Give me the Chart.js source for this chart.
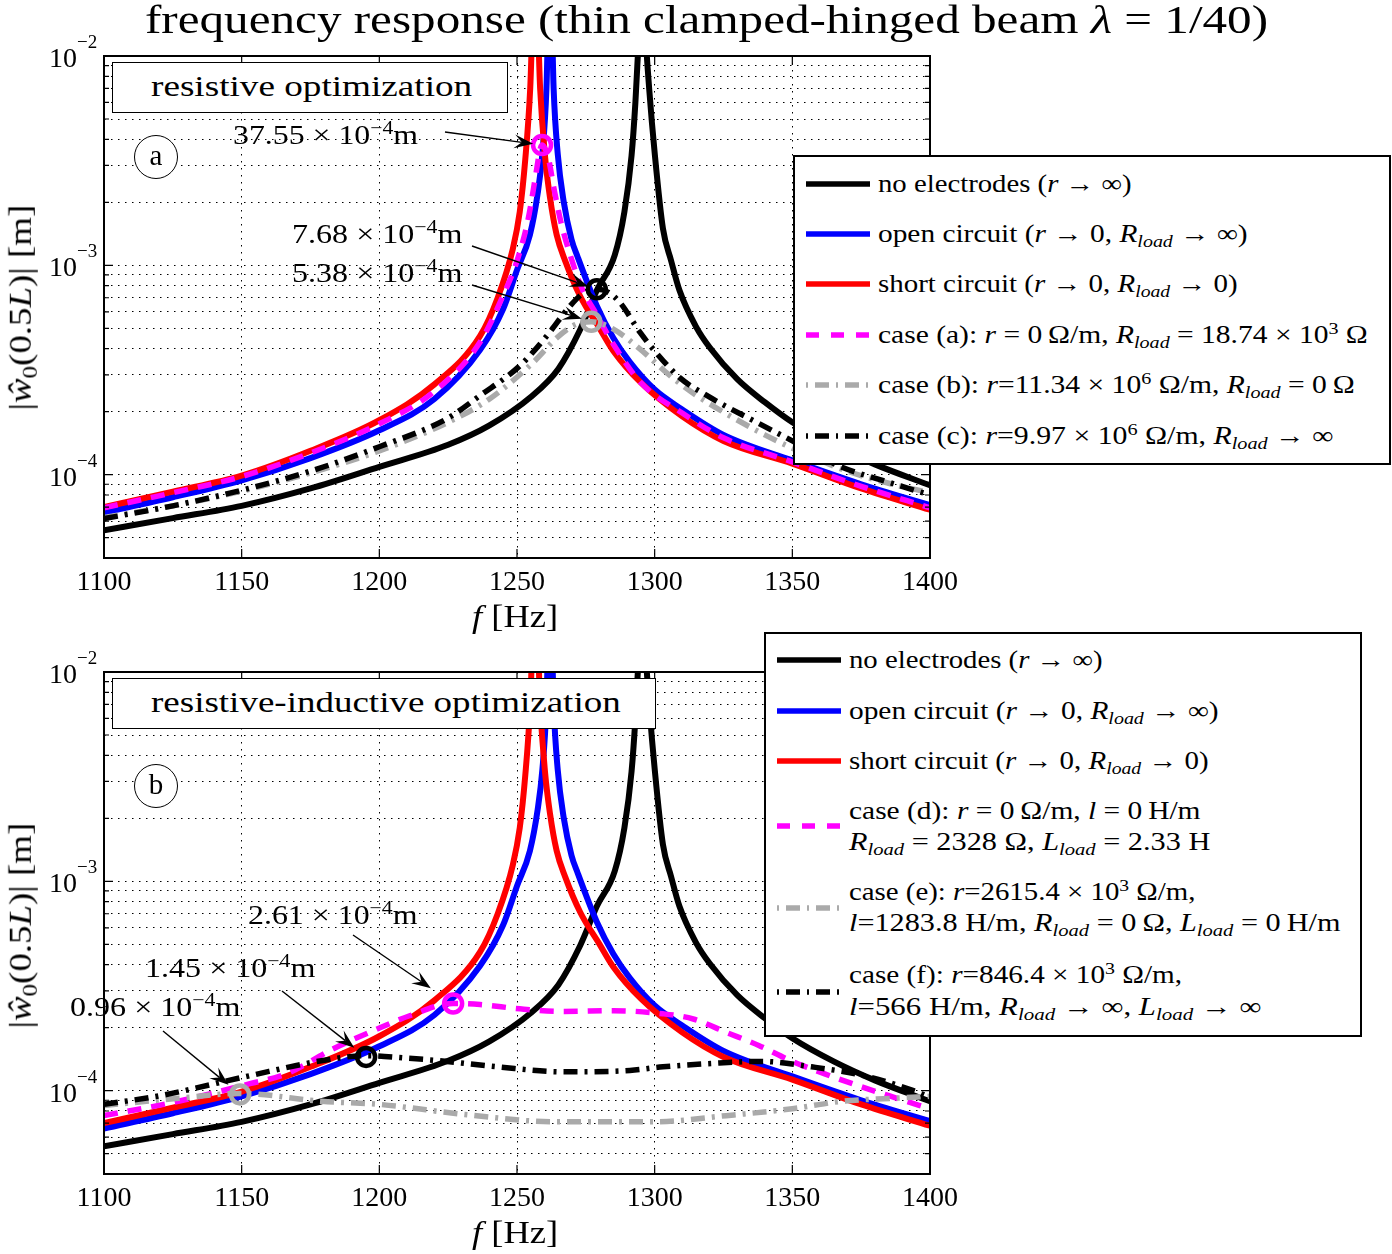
<!DOCTYPE html>
<html>
<head>
<meta charset="utf-8">
<script src="https://cdn.jsdelivr.net/npm/chart.js@4.4.1/dist/chart.umd.min.js"></script>
<style>
  body { margin: 0; background: #fff; }
  #page { position: relative; width: 1392px; height: 1254px; overflow: hidden;
          font-family: 'Liberation Serif', serif; color: #000; }
  canvas { position: absolute; left: 0; }
  .txt { position: absolute; white-space: nowrap; transform-origin: left center; }
  .box { position: absolute; background: #fff; border: 1.5px solid #000; box-sizing: border-box; }
  .legend { position: absolute; background: #fff; border: 2px solid #000; box-sizing: border-box; }
  .ring { position: absolute; border: 1.5px solid #000; border-radius: 50%; box-sizing: border-box;
          text-align: center; background: #fff; }
  sup { font-size: 68%; vertical-align: 0.55em; line-height: 0; }
  sub { font-size: 68%; vertical-align: -0.3em; line-height: 0; }
</style>
</head>
<body>
<div id="page">
  <canvas id="topChart" width="1392" height="620" style="top:0"></canvas>
  <canvas id="botChart" width="1392" height="634" style="top:620px"></canvas>
</div>
<script>
// axes
const xTicks = [1100, 1150, 1200, 1250, 1300, 1350, 1400];
const yGrid = [4e-5, 5e-5, 6e-5, 7e-5, 8e-5, 9e-5, 1e-4, 2e-4, 3e-4, 4e-4, 5e-4, 6e-4, 7e-4, 8e-4, 9e-4,
               1e-3, 2e-3, 3e-3, 4e-3, 5e-3, 6e-3, 7e-3, 8e-3, 9e-3, 1e-2];
const yMajor = [1e-4, 1e-3, 1e-2];
const yMajorExp = ['\u22124', '\u22123', '\u22122'];

// curves shared by both panels (frequency [Hz], amplitude [m])
const noElecF = [1100, 1125, 1150, 1175, 1200, 1225, 1240, 1255, 1265, 1273, 1279, 1285.5, 1289, 1291.6, 1293,
                 1294.2, 1295.5, 1296.8, 1298, 1300.1, 1303, 1306, 1309, 1315, 1320, 1330, 1340, 1350, 1365, 1380, 1400];
const noElecV = [5.42e-5, 6.2e-5, 7.1e-5, 8.6e-5, 1.09e-4, 1.39e-4, 1.72e-4, 2.35e-4, 3.2e-4, 4.95e-4, 7.6e-4, 1.12e-3,
                 1.8e-3, 3.34e-3, 6e-3, 1.2e-2, 3e-2, 1.2e-2, 7e-3, 3.34e-3, 1.5e-3, 1.05e-3, 7.6e-4, 5.1e-4, 4.05e-4,
                 2.86e-4, 2.22e-4, 1.78e-4, 1.38e-4, 1.12e-4, 8.9e-5];
const openF = [1100, 1125, 1150, 1175, 1200, 1220, 1236.6, 1245, 1250, 1254.7, 1257.5, 1259.2, 1260.7, 1262, 1263.3,
               1264.8, 1267, 1269.8, 1272, 1279, 1285, 1291, 1300, 1310, 1325, 1350, 1375, 1400];
const openV = [6.6e-5, 7.8e-5, 9.4e-5, 1.2e-4, 1.63e-4, 2.3e-4, 3.95e-4, 6.2e-4, 9.5e-4, 1.4e-3, 2.2e-3, 3.4e-3, 7e-3,
               3e-2, 7e-3, 3.4e-3, 2.0e-3, 1.33e-3, 1.1e-3, 6.4e-4, 4.5e-4, 3.45e-4, 2.55e-4, 2.05e-4, 1.55e-4,
               1.17e-4, 9.0e-5, 7.15e-5];
const shortF = [1100, 1125, 1150, 1175, 1200, 1220, 1236.6, 1243, 1248.5, 1251, 1253, 1254.8, 1256.6, 1258.4, 1260.2,
                1262, 1264.4, 1267.5, 1273, 1280, 1285, 1295, 1310, 1325, 1350, 1375, 1400];
const shortV = [7.0e-5, 8.3e-5, 9.9e-5, 1.3e-4, 1.82e-4, 2.7e-4, 4.6e-4, 7.0e-4, 1.2e-3, 1.8e-3, 3.2e-3, 7e-3, 3e-2,
                7e-3, 3.3e-3, 2.1e-3, 1.4e-3, 1.05e-3, 7.1e-4, 5.0e-4, 3.9e-4, 2.75e-4, 1.9e-4, 1.45e-4, 1.13e-4,
                8.6e-5, 6.8e-5];

// panel (a): resistive optimization
const caseAF = [1100, 1125, 1150, 1175, 1200, 1220, 1236.6, 1245, 1250, 1254, 1257, 1258.3, 1259.1, 1260, 1261.3,
                1263.5, 1266, 1270, 1273.5, 1279, 1285, 1295, 1310, 1325, 1350, 1375, 1400];
const caseAV = [6.95e-5, 8.2e-5, 9.8e-5, 1.27e-4, 1.75e-4, 2.5e-4, 4.3e-4, 7.2e-4, 1.05e-3, 1.65e-3, 2.8e-3, 3.55e-3,
                3.755e-3, 3.65e-3, 3.3e-3, 2.3e-3, 1.6e-3, 1.05e-3, 7.8e-4, 5.8e-4, 4.2e-4, 2.75e-4, 1.97e-4,
                1.5e-4, 1.15e-4, 8.8e-5, 6.95e-5];
const caseBF = [1100, 1125, 1150, 1175, 1200, 1225, 1240, 1255.9, 1264.4, 1271, 1277, 1285, 1294.7, 1305.6, 1315,
                1325, 1340, 1355, 1370, 1385, 1400];
const caseBV = [6.25e-5, 7.1e-5, 8.35e-5, 1.02e-4, 1.3e-4, 1.78e-4, 2.3e-4, 3.44e-4, 4.5e-4, 5.2e-4, 5.38e-4, 4.96e-4,
                3.98e-4, 2.97e-4, 2.4e-4, 1.99e-4, 1.55e-4, 1.25e-4, 1.04e-4, 9.1e-5, 8.2e-5];
const caseCF = [1100, 1125, 1150, 1175, 1200, 1224.5, 1236.6, 1251, 1260.8, 1269.3, 1274, 1279, 1283, 1287.4, 1294.7,
                1300, 1309.2, 1318.9, 1337, 1350, 1367, 1385, 1400];
const caseCV = [6.17e-5, 7.1e-5, 8.43e-5, 1.04e-4, 1.36e-4, 1.85e-4, 2.39e-4, 3.31e-4, 4.6e-4, 6.4e-4, 7.35e-4, 7.68e-4,
                7.45e-4, 6.64e-4, 4.78e-4, 3.9e-4, 2.9e-4, 2.39e-4, 1.78e-4, 1.45e-4, 1.1e-4, 9.2e-5, 8.0e-5];
const peaksTopF = [1259.1, 1279, 1277];
const peaksTopV = [37.55e-4, 7.68e-4, 5.38e-4];
const peaksTopLabels = ['37.55', '7.68', '5.38'];

// panel (b): resistive-inductive optimization
const caseDF = [1100, 1127, 1153, 1166, 1183, 1198, 1211, 1226.8, 1236.6, 1251, 1267, 1285, 1303, 1314, 1326, 1338,
                1350, 1362, 1375, 1388, 1400];
const caseDV = [7.6e-5, 8.9e-5, 1.08e-4, 1.2e-4, 1.58e-4, 1.94e-4, 2.28e-4, 2.61e-4, 2.58e-4, 2.46e-4, 2.39e-4,
                2.41e-4, 2.33e-4, 2.2e-4, 1.9e-4, 1.64e-4, 1.38e-4, 1.2e-4, 1.045e-4, 9.2e-5, 8.2e-5];
const caseEF = [1100, 1127, 1149.4, 1179, 1200, 1231, 1264, 1300, 1326, 1350, 1368, 1386.6, 1400];
const caseEV = [8.5e-5, 9.2e-5, 9.7e-5, 8.9e-5, 8.6e-5, 7.7e-5, 7.1e-5, 7.1e-5, 7.6e-5, 8.2e-5, 8.9e-5, 9.2e-5, 9.4e-5];
const caseFF = [1100, 1121, 1153, 1179, 1195.2, 1210, 1222, 1243, 1267, 1291, 1303, 1321, 1339, 1357, 1376, 1394, 1400];
const caseFV = [8.6e-5, 9.5e-5, 1.18e-4, 1.39e-4, 1.47e-4, 1.43e-4, 1.39e-4, 1.3e-4, 1.23e-4, 1.25e-4, 1.3e-4,
                1.35e-4, 1.38e-4, 1.3e-4, 1.18e-4, 1.0e-4, 9.3e-5];
const peaksBotF = [1226.8, 1195.2, 1149.4];
const peaksBotV = [2.61e-4, 1.45e-4, 0.96e-4];
const peaksBotLabels = ['2.61', '1.45', '0.96'];

const MAGENTA = '#ff00ff', GRAY = '#aaaaaa', BLUE = '#0000ff', RED = '#ff0000', BLACK = '#000000';
const DASH = [14, 10], DASHDOT = [14, 7, 3, 7];

Chart.defaults.font.family = "'Liberation Serif', serif";
Chart.defaults.color = '#000';

function line(F, V, color, dash) {
    return {
        data: F.map((f, i) => ({ x: f, y: V[i] })),
        borderColor: color,
        borderWidth: dash ? 5.5 : 6,
        borderDash: dash || [],
        borderCapStyle: 'butt',
        pointRadius: 0,
        fill: false,
        cubicInterpolationMode: 'monotone',
        clip: 0
    };
}

function rings(F, V, colors) {
    return {
        data: F.map((f, i) => ({ x: f, y: V[i] })),
        showLine: false,
        pointRadius: 9,
        pointBorderWidth: 4.5,
        pointBorderColor: colors,
        pointBackgroundColor: 'rgba(0,0,0,0)',
        clip: false
    };
}

function drawArrow(ctx, x0, y0, x1, y1) {
    const a = Math.atan2(y1 - y0, x1 - x0), c = Math.cos(a), s = Math.sin(a);
    const L = 19, W = 7;
    ctx.lineWidth = 1.4;
    ctx.beginPath();
    ctx.moveTo(x0, y0);
    ctx.lineTo(x1 - 0.6 * L * c, y1 - 0.6 * L * s);
    ctx.stroke();
    ctx.beginPath();
    ctx.moveTo(x1, y1);
    ctx.lineTo(x1 - L * c + W * s, y1 - L * s - W * c);
    ctx.lineTo(x1 - 0.6 * L * c, y1 - 0.6 * L * s);
    ctx.lineTo(x1 - L * c - W * s, y1 - L * s + W * c);
    ctx.closePath();
    ctx.fill();
}

// frame, inward ticks, 10^n labels and annotation arrows
function framePlugin(arrows) {
    return {
        id: 'frame',
        afterDraw(chart) {
            const { ctx, chartArea: a, scales: { x, y } } = chart;
            ctx.save();
            ctx.strokeStyle = '#000';
            ctx.fillStyle = '#000';
            ctx.lineWidth = 1.2;
            ctx.beginPath();
            xTicks.forEach(v => {
                const px = x.getPixelForValue(v);
                ctx.moveTo(px, a.bottom); ctx.lineTo(px, a.bottom - 9);
                ctx.moveTo(px, a.top); ctx.lineTo(px, a.top + 9);
            });
            yGrid.forEach(v => {
                const py = y.getPixelForValue(v);
                const len = yMajor.includes(v) ? 9 : 5;
                ctx.moveTo(a.left, py); ctx.lineTo(a.left + len, py);
                ctx.moveTo(a.right, py); ctx.lineTo(a.right - len, py);
            });
            ctx.stroke();
            ctx.lineWidth = 2;
            ctx.strokeRect(a.left, a.top, a.right - a.left, a.bottom - a.top);

            yMajor.forEach((v, i) => {
                const py = y.getPixelForValue(v);
                ctx.font = "28px 'Liberation Serif'";
                ctx.textAlign = 'right';
                ctx.fillText('10', a.left - 27, py + 11);
                ctx.font = "19px 'Liberation Serif'";
                ctx.textAlign = 'left';
                ctx.fillText(yMajorExp[i], a.left - 27, py - 8);
            });

            arrows.forEach(ar => {
                const tx = x.getPixelForValue(ar.f), ty = y.getPixelForValue(ar.v);
                const dx = tx - ar.from[0], dy = ty - ar.from[1], d = Math.hypot(dx, dy);
                drawArrow(ctx, ar.from[0], ar.from[1], tx - dx / d * ar.gap, ty - dy / d * ar.gap);
            });
            ctx.restore();
        }
    };
}

function makeChart(id, datasets, padTop, xAxisH, arrows) {
    return new Chart(document.getElementById(id), {
        type: 'line',
        data: { datasets },
        options: {
            responsive: false,
            animation: false,
            layout: { padding: { left: 0, right: 462, top: padTop, bottom: 0 } },
            plugins: { legend: { display: false }, tooltip: { enabled: false } },
            scales: {
                x: {
                    type: 'linear', min: 1100, max: 1400,
                    afterBuildTicks: s => { s.ticks = xTicks.map(v => ({ value: v })); },
                    afterFit: s => { s.height = xAxisH; },
                    ticks: { font: { size: 28 }, padding: 8, maxRotation: 0, callback: v => String(v) },
                    grid: { color: '#000', lineWidth: 1, drawTicks: false },
                    border: { display: false, dash: [1.5, 5.5] }
                },
                y: {
                    type: 'logarithmic', min: 4e-5, max: 1e-2,
                    afterBuildTicks: s => { s.ticks = yGrid.map(v => ({ value: v })); },
                    afterFit: s => { s.width = 104; },
                    ticks: { display: false },
                    grid: { color: '#000', lineWidth: 1, drawTicks: false },
                    border: { display: false, dash: [1.5, 5.5] }
                }
            }
        },
        plugins: [framePlugin(arrows)]
    });
}

// datasets listed top-most first
makeChart('topChart', [
    rings(peaksTopF, peaksTopV, [MAGENTA, BLACK, GRAY]),
    line(caseCF, caseCV, BLACK, DASHDOT),
    line(caseBF, caseBV, GRAY, DASHDOT),
    line(caseAF, caseAV, MAGENTA, DASH),
    line(shortF, shortV, RED),
    line(openF, openV, BLUE),
    line(noElecF, noElecV, BLACK)
], 56, 62, [
    { from: [445, 132], f: peaksTopF[0], v: peaksTopV[0], gap: 9 },
    { from: [472, 246], f: peaksTopF[1], v: peaksTopV[1], gap: 9 },
    { from: [472, 285], f: peaksTopF[2], v: peaksTopV[2], gap: 10 }
]);

makeChart('botChart', [
    rings(peaksBotF, peaksBotV, [MAGENTA, BLACK, GRAY]),
    line(caseFF, caseFV, BLACK, DASHDOT),
    line(caseEF, caseEV, GRAY, DASHDOT),
    line(caseDF, caseDV, MAGENTA, DASH),
    line(shortF, shortV, RED),
    line(openF, openV, BLUE),
    line(noElecF, noElecV, BLACK)
], 52, 80, [
    { from: [353, 315], f: peaksBotF[0], v: peaksBotV[0], gap: 27 },
    { from: [282, 371], f: peaksBotF[1], v: peaksBotV[1], gap: 15 },
    { from: [163, 411], f: peaksBotF[2], v: peaksBotV[2], gap: 15 }
]);

// ---- text overlays ----
const page = document.getElementById('page');

function text(html, left, cy, size, width) {
    const d = document.createElement('div');
    d.className = 'txt';
    d.style.fontSize = size + 'px';
    d.style.lineHeight = (size * 1.2) + 'px';
    d.style.left = left + 'px';
    d.style.top = (cy - size * 0.62) + 'px';
    d.innerHTML = html;
    page.appendChild(d);
    if (width) d.style.transform = 'scaleX(' + (width / d.offsetWidth) + ')';
    return d;
}

function vtext(html, cx, cy, size, height) {
    const d = document.createElement('div');
    d.className = 'txt';
    d.style.fontSize = size + 'px';
    d.style.lineHeight = (size * 1.2) + 'px';
    d.innerHTML = html;
    page.appendChild(d);
    const w = d.offsetWidth, h = d.offsetHeight;
    d.style.left = (cx - w / 2) + 'px';
    d.style.top = (cy - h / 2) + 'px';
    d.style.transformOrigin = 'center center';
    d.style.transform = 'rotate(-90deg) scaleX(' + (height / w) + ')';
}

function rect(cls, l, t, w, h) {
    const d = document.createElement('div');
    d.className = cls;
    Object.assign(d.style, { left: l + 'px', top: t + 'px', width: w + 'px', height: h + 'px' });
    page.appendChild(d);
    return d;
}

function ring(label, cx, cy) {
    const d = rect('ring', cx - 22, cy - 22, 44, 44);
    d.style.fontSize = '29px';
    d.style.lineHeight = '38px';
    d.textContent = label;
}

const tenM = ' \u00d7 10<sup>\u22124</sup>m';
const Rl = '<i>R</i><sub><i>load</i></sub>', Ll = '<i>L</i><sub><i>load</i></sub>';

text('frequency response (thin clamped-hinged beam <i>\u03bb</i> = 1/40)', 145, 21, 40, 1123);

// panel (a)
rect('box', 112, 62, 396, 51);
text('resistive optimization', 151, 87, 30, 321);
ring('a', 156, 157);
text(peaksTopLabels[0] + tenM, 233, 136, 27, 185);
text(peaksTopLabels[1] + tenM, 292, 235, 27, 171);
text(peaksTopLabels[2] + tenM, 292, 274, 27, 171);
vtext('|<i>\u0175</i><sub>0</sub>(0.5<i>L</i>)| [m]', 20, 307, 31, 206);
text('<i>f</i> [Hz]', 472, 617, 31, 86);

// panel (b)
rect('box', 112, 678, 544, 51);
text('resistive-inductive optimization', 151, 703, 30, 470);
ring('b', 156, 786);
text(peaksBotLabels[0] + tenM, 248, 916, 27, 170);
text(peaksBotLabels[1] + tenM, 145, 969, 27, 171);
text(peaksBotLabels[2] + tenM, 70, 1008, 27, 171);
vtext('|<i>\u0175</i><sub>0</sub>(0.5<i>L</i>)| [m]', 20, 925, 31, 206);
text('<i>f</i> [Hz]', 472, 1233, 31, 86);

// ---- legends ----
const NS = 'http://www.w3.org/2000/svg';
function legend(box, rows) {
    rect('legend', box.left, box.top, box.width, box.height);
    const svg = document.createElementNS(NS, 'svg');
    svg.setAttribute('width', 1392);
    svg.setAttribute('height', 1254);
    svg.style.position = 'absolute';
    svg.style.left = '0';
    svg.style.top = '0';
    page.appendChild(svg);
    rows.forEach(r => {
        const ln = document.createElementNS(NS, 'line');
        ln.setAttribute('x1', box.x0); ln.setAttribute('x2', box.x1);
        ln.setAttribute('y1', r.y); ln.setAttribute('y2', r.y);
        ln.setAttribute('stroke', r.color);
        ln.setAttribute('stroke-width', 5.5);
        if (r.dash) ln.setAttribute('stroke-dasharray', r.dash.join(' '));
        svg.appendChild(ln);
        r.lines.forEach((l, k) => text(l[0], box.tx, r.ty[k], 25, l[1]));
    });
}

const common = [
    ['no electrodes (<i>r</i> \u2192 \u221e)', 254],
    ['open circuit (<i>r</i> \u2192 0, ' + Rl + ' \u2192 \u221e)', 370],
    ['short circuit (<i>r</i> \u2192 0, ' + Rl + ' \u2192 0)', 360]
];
const LEGDASH = [13, 12], LEGDASHDOT = [2, 7, 14, 7];

legend({ left: 793, top: 155, width: 598, height: 310, x0: 806, x1: 870, tx: 878 }, [
    { y: 184, color: BLACK, lines: [common[0]], ty: [184] },
    { y: 234, color: BLUE, lines: [common[1]], ty: [234] },
    { y: 284, color: RED, lines: [common[2]], ty: [284] },
    { y: 335, color: MAGENTA, dash: LEGDASH, ty: [335],
      lines: [['case (a): <i>r</i> = 0&thinsp;\u03a9/m, ' + Rl + ' = 18.74 \u00d7 10<sup>3</sup> \u03a9', 490]] },
    { y: 385, color: GRAY, dash: LEGDASHDOT, ty: [385],
      lines: [['case (b): <i>r</i>=11.34 \u00d7 10<sup>6</sup> \u03a9/m, ' + Rl + ' = 0&thinsp;\u03a9', 477]] },
    { y: 436, color: BLACK, dash: LEGDASHDOT, ty: [436],
      lines: [['case (c): <i>r</i>=9.97 \u00d7 10<sup>6</sup> \u03a9/m, ' + Rl + ' \u2192 \u221e', 455]] }
]);

legend({ left: 764, top: 632, width: 598, height: 405, x0: 777, x1: 841, tx: 849 }, [
    { y: 660, color: BLACK, lines: [common[0]], ty: [660] },
    { y: 711, color: BLUE, lines: [common[1]], ty: [711] },
    { y: 761, color: RED, lines: [common[2]], ty: [761] },
    { y: 826, color: MAGENTA, dash: LEGDASH, ty: [811, 842],
      lines: [['case (d): <i>r</i> = 0&thinsp;\u03a9/m, <i>l</i> = 0&thinsp;H/m', 351],
              [Rl + ' = 2328 \u03a9, ' + Ll + ' = 2.33 H', 361]] },
    { y: 908, color: GRAY, dash: LEGDASHDOT, ty: [892, 923],
      lines: [['case (e): <i>r</i>=2615.4 \u00d7 10<sup>3</sup> \u03a9/m,', 346],
              ['<i>l</i>=1283.8 H/m, ' + Rl + ' = 0&thinsp;\u03a9, ' + Ll + ' = 0&thinsp;H/m', 491]] },
    { y: 992, color: BLACK, dash: LEGDASHDOT, ty: [975, 1007],
      lines: [['case (f): <i>r</i>=846.4 \u00d7 10<sup>3</sup> \u03a9/m,', 333],
              ['<i>l</i>=566 H/m, ' + Rl + ' \u2192 \u221e, ' + Ll + ' \u2192 \u221e', 413]] }
]);
</script>
</body>
</html>
